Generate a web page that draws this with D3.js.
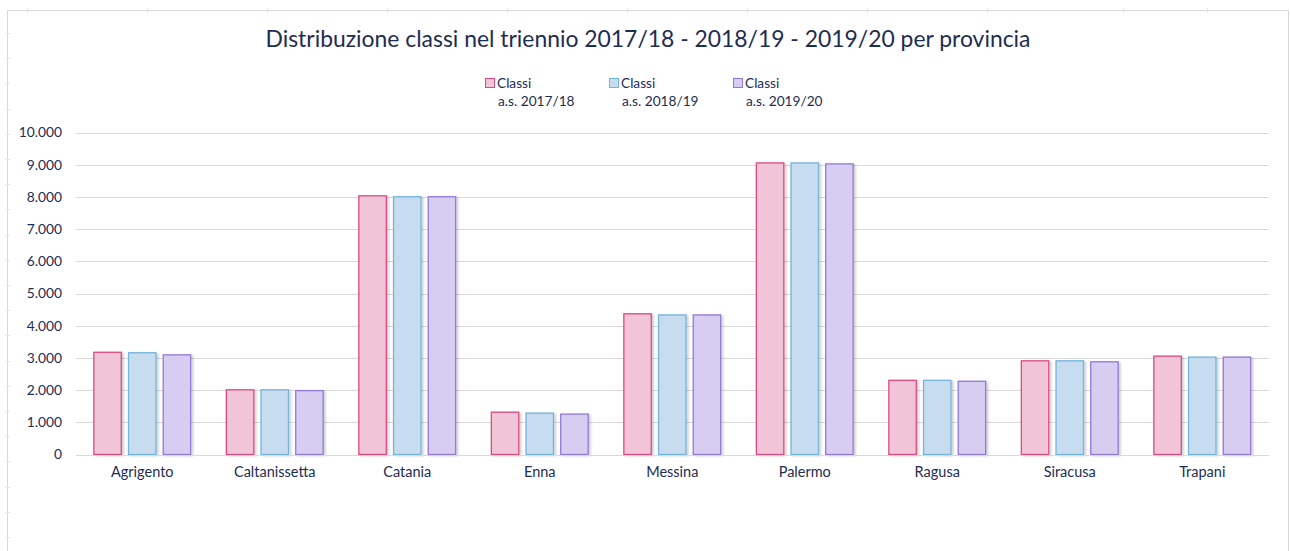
<!DOCTYPE html>
<html><head><meta charset="utf-8">
<script src="https://cdn.jsdelivr.net/npm/d3@7"></script>
<style>
html,body{margin:0;padding:0;background:#fff;}
svg{display:block;font-family:Lato, "Open Sans", sans-serif;}
</style></head>
<body>
<svg id="c" width="1290" height="551"></svg>
<script>
const categories = ["Agrigento","Caltanissetta","Catania","Enna","Messina","Palermo","Ragusa","Siracusa","Trapani"];
const seriesNames = ["Classi\na.s. 2017/18","Classi\na.s. 2018/19","Classi\na.s. 2019/20"];
const values1718 = [3190, 2025, 8050, 1330, 4385, 9070, 2320, 2925, 3070];
const values1819 = [3175, 2025, 8020, 1300, 4350, 9070, 2320, 2925, 3040];
const values1920 = [3110, 2000, 8020, 1270, 4350, 9040, 2290, 2895, 3040];
const yTicks = [0,1000,2000,3000,4000,5000,6000,7000,8000,9000,10000];
const title = "Distribuzione classi nel triennio 2017/18 - 2018/19 - 2019/20 per provincia";

const fills = ["#F2C4D7","#C8DCF0","#D6CDF1"];
const strokes = ["#DC4A82","#72B4DC","#9279D9"];
const textColor = "#1E2D52";
const series = [values1718, values1819, values1920];

const svg = d3.select("#c");
const W = 1290, H = 551;

const defs = svg.append("defs");
const f = defs.append("filter").attr("id","sh").attr("x","-20%").attr("y","-5%").attr("width","150%").attr("height","115%");
f.append("feDropShadow").attr("dx",2).attr("dy",1).attr("stdDeviation",1.2).attr("flood-color","#000").attr("flood-opacity",0.18);

// spreadsheet frame ghost
const frame = svg.append("g").attr("stroke","#d9d9d9").attr("fill","none");
frame.append("line").attr("x1",7.5).attr("x2",1288.5).attr("y1",10.5).attr("y2",10.5);
frame.append("line").attr("x1",7.5).attr("x2",7.5).attr("y1",10.5).attr("y2",H);
frame.append("line").attr("x1",1288.5).attr("x2",1288.5).attr("y1",10.5).attr("y2",H);
const leftTicks = d3.range(33, H, 25.2);
frame.selectAll(".lt").data(leftTicks).join("line").attr("x1",5).attr("x2",10).attr("y1",d=>Math.round(d)+0.5).attr("y2",d=>Math.round(d)+0.5).attr("stroke","#e6e6e6");
const topTicks = [27,147,267,387,507,627,747,867,987,1123,1207];
frame.selectAll(".tt").data(topTicks).join("line").attr("y1",8).attr("y2",13).attr("x1",d=>d+0.5).attr("x2",d=>d+0.5).attr("stroke","#e6e6e6");

const margin = {left:76, right:1268.5, top:132.5, bottom:454.5};
const x0 = d3.scaleBand().domain(categories).range([margin.left, margin.right]).paddingInner(0).paddingOuter(0);
const x1 = d3.scaleBand().domain([0,1,2]).range([0, x0.bandwidth()]).paddingInner(0.18).paddingOuter(0.5);
const y = d3.scaleLinear().domain([0,10000]).range([margin.bottom, margin.top]);

svg.append("g").selectAll("line").data(yTicks).join("line")
  .attr("x1",margin.left).attr("x2",margin.right)
  .attr("y1",d=>Math.round(y(d))+0.5).attr("y2",d=>Math.round(y(d))+0.5)
  .attr("stroke","#d9d9d9").attr("stroke-width",1);

const fmt = d3.formatLocale({decimal:",",thousands:".",grouping:[3],currency:["€",""]}).format(",d");
const yAxis = d3.axisLeft(y).tickValues(yTicks).tickFormat(fmt).tickSize(0).tickPadding(14);
const ya = svg.append("g").attr("transform",`translate(${margin.left},0)`).call(yAxis);
ya.select(".domain").remove();
ya.selectAll("text").attr("fill",textColor).attr("font-size",13.8).attr("font-family","Lato, sans-serif");

const g = svg.append("g");
categories.forEach((c,i)=>{
  series.forEach((s,j)=>{
    const bx = x0(c)+x1(j);
    g.append("rect")
      .attr("x",bx+0.5).attr("y",y(s[i])+0.5)
      .attr("width",x1.bandwidth()-1).attr("height",y(0)-y(s[i])-0.5)
      .attr("fill",fills[j]).attr("stroke",strokes[j]).attr("stroke-width",1.3)
      .attr("filter","url(#sh)");
  });
});

svg.append("line").attr("x1",margin.left).attr("x2",margin.right)
  .attr("y1",Math.round(y(0))+0.5).attr("y2",Math.round(y(0))+0.5).attr("stroke","#d9d9d9");
const xAxis = d3.axisBottom(x0).tickSize(0).tickPadding(12);
const xa = svg.append("g").attr("transform",`translate(0,${y(0)})`).call(xAxis);
xa.select(".domain").remove();
xa.selectAll("text").attr("fill",textColor).attr("font-size",14.5).attr("font-family","Lato, sans-serif");

svg.append("text").attr("x",648).attr("y",47).attr("text-anchor","middle")
  .attr("fill",textColor).attr("font-size",22.9).attr("font-family","Lato, sans-serif").text(title);

const legX = [485,609,733];
seriesNames.forEach((n,j)=>{
  const lg = svg.append("g").attr("transform",`translate(${legX[j]},0)`);
  lg.append("rect").attr("x",0.5).attr("y",78.5).attr("width",9).attr("height",9)
    .attr("fill",fills[j]).attr("stroke",strokes[j]).attr("stroke-width",1);
  const lines = n.split("\n");
  lg.append("text").attr("x",12).attr("y",88).attr("fill",textColor).attr("font-size",13.7).text(lines[0]);
  lg.append("text").attr("x",13).attr("y",106).attr("fill",textColor).attr("font-size",13.7).text(lines[1]);
});
</script>
</body></html>
